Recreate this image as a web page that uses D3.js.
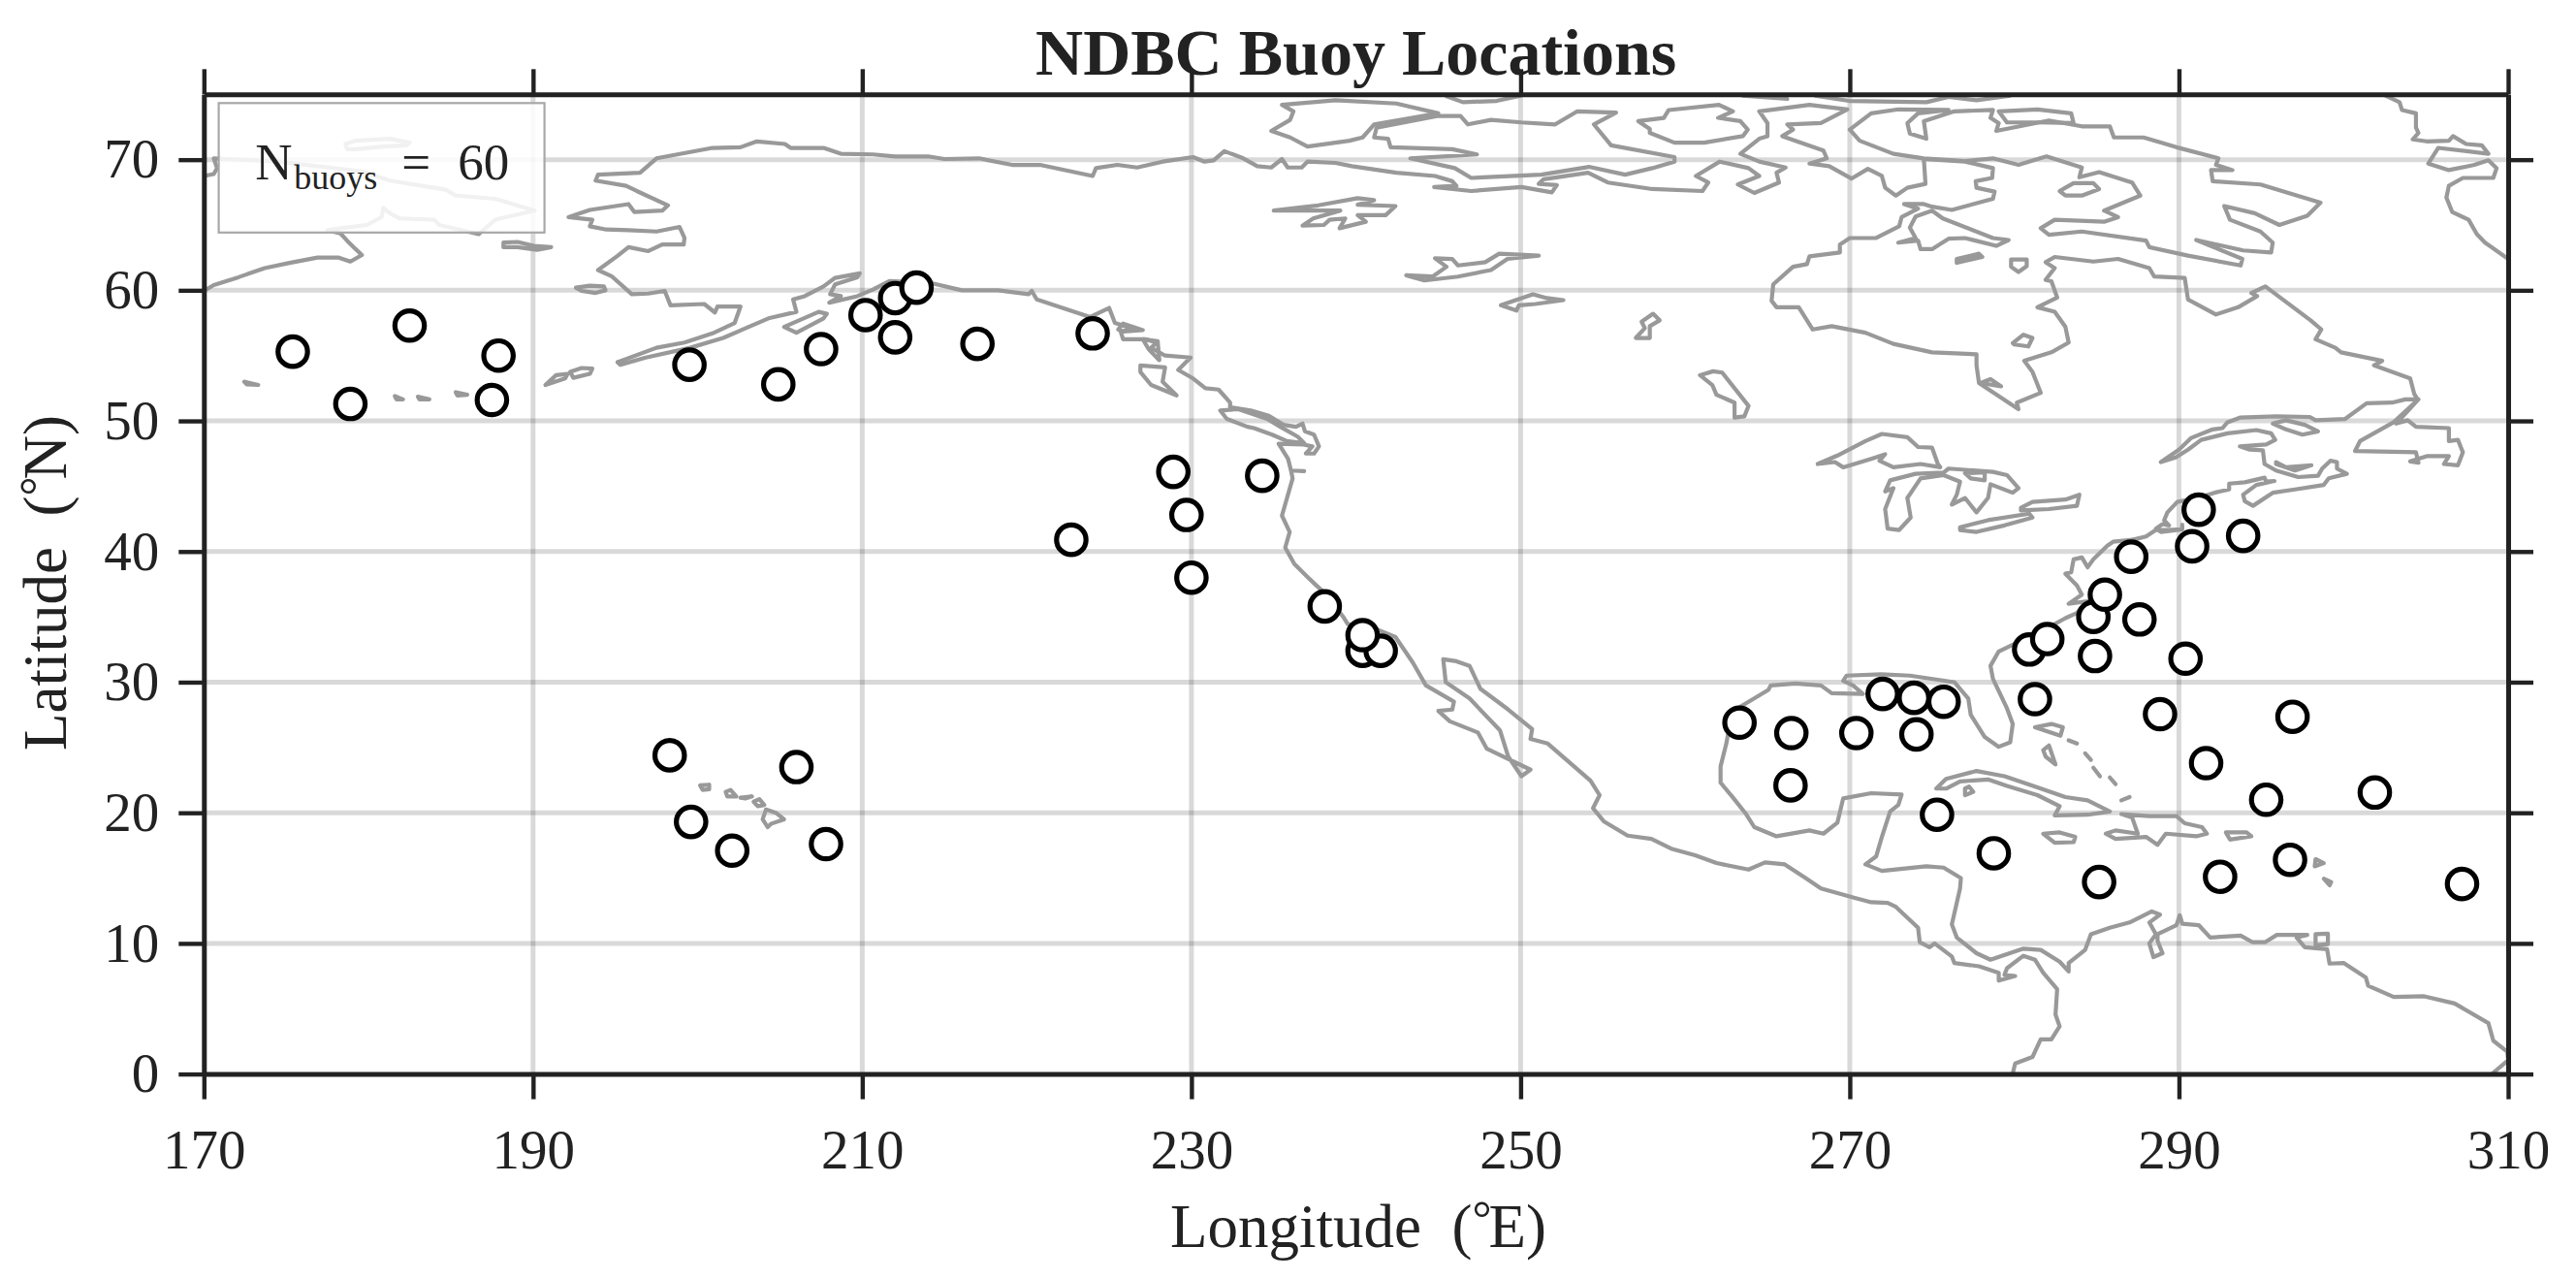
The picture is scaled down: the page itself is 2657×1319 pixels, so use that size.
<!DOCTYPE html>
<html>
<head>
<meta charset="utf-8">
<title>NDBC Buoy Locations</title>
<script src="https://cdn.jsdelivr.net/npm/d3@7"></script>
<style>
  html, body { margin: 0; padding: 0; background: #fff; }
  text { font-family: "Liberation Serif", serif; fill: #222; white-space: pre; }
</style>
</head>
<body>
<svg id="chart" width="2657" height="1319"></svg>
<script>
var lonTicks = [170, 190, 210, 230, 250, 270, 290, 310];
var latTicks = [0, 10, 20, 30, 40, 50, 60, 70];

// buoy positions, degrees E / degrees N (later entries draw on top)
var buoyLon = [175.4, 178.9, 182.5, 187.9, 187.5, 199.5, 204.9, 207.5, 210.2, 212.0, 213.3, 212.0, 217.0, 224.0,
  228.9, 234.3, 229.7, 222.7, 230.0, 238.1, 240.4, 241.5, 240.4, 198.3, 199.6, 202.1, 206.0, 207.8,
  291.2, 290.8, 293.9, 287.1, 284.8, 285.5, 287.6, 284.9, 290.4, 280.9, 282.0, 281.25, 288.85, 296.9, 291.65, 295.3, 301.9,
  266.45, 263.3, 270.4, 272.0, 273.9, 275.7, 274.05, 266.4, 275.3, 278.75, 285.15, 292.5, 296.75, 307.2];
var buoyLat = [55.3, 51.3, 57.3, 55.0, 51.6, 54.3, 52.8, 55.5, 58.1, 59.4, 60.2, 56.4, 55.9, 56.7,
  46.1, 45.8, 42.8, 40.9, 38.0, 35.8, 32.4, 32.4, 33.6, 24.4, 19.3, 17.1, 23.5, 17.6,
  43.2, 40.4, 41.2, 39.6, 35.0, 36.7, 34.8, 32.0, 31.8, 32.5, 33.3, 28.7, 27.55, 27.35, 23.8, 21.0, 21.55,
  26.1, 26.9, 26.1, 29.1, 28.8, 28.5, 26.0, 22.1, 19.85, 16.9, 14.7, 15.1, 16.4, 14.55];

// coastlines, [lon, lat]
var siberia = [[170,59.95],[170.6,60.4],[172.1,61],[173.7,61.7],[175.2,62.1],[176.9,62.5],[178.2,62.5],[178.9,62.2],[179.6,62.7],[179.1,63.3],[178.7,63.8],[178.3,64.35],[177.5,64.6],[178,64.7],[179.9,65],[180.8,65.6],[180.9,66.3],[181.3,65.9],[181.9,65.5],[184,65.4],[184.3,65],[186.7,64.3],[187.7,65.4],[188,65.5],[190.1,66.1],[187.7,67],[185.3,67.25],[184.7,67.7],[181.3,68.4],[179.6,69.1],[174.5,69.85],[170.6,70.1],[170.8,69.35],[170.6,68.9],[170,68.75]];

var northAmericaArctic = [[195.14,54.5],[197.5,55.6],[199.2,56],[200.9,56.7],[202.25,57.5],[202.6,58.75],[201.2,58.75],[201.05,58.3],[200.4,58.95],[198.35,58.85],[198,59.95],[197,59.75],[196,59.7],[194.8,61.05],[193.95,61.55],[195.15,62.65],[195.8,63.3],[197,63],[197.85,63.5],[199.15,63.5],[199.2,64],[198.9,64.85],[197.5,64.5],[195.8,64.6],[194.45,64.65],[193.45,64.9],[193.6,65.4],[192.15,65.6],[193.45,66.15],[195.8,66.6],[196.15,66],[197.85,66.1],[198.2,66.5],[196.3,67.6],[195.65,68],[193.8,68.4],[193.95,68.85],[196.5,69],[197.5,70.1],[200.9,70.9],[202.6,70.95],[203.6,71.4],[205.3,71.2],[205.65,70.9],[207.65,70.9],[208.7,70.45],[210.65,70.4],[212,70.25],[214,70.25],[215,70.05],[217.1,70.1],[219.1,69.6],[220.8,69.6],[224,68.75],[224.2,69.35],[225.5,69.6],[226.7,69.4],[228.25,69.85],[230.1,70.2],[230.8,69.85],[231.35,69.95],[232,70.65],[233.15,70.1],[234,69.5],[234.85,69.4],[235.5,70.05],[235.85,69.4],[236.7,69.4],[237.05,69.85],[238.75,69.75],[239.75,69.5],[242.45,69],[244.8,68.75],[245.85,68.35],[246.1,68],[244.75,67.9],[247,67.6],[250.05,67.9],[251.9,67.5],[252.2,68.05],[251.1,68.15],[251.4,68.5],[254.1,69],[255.3,68.25],[258,67.75],[261.05,67.6],[261.4,68.25],[260.65,68.75],[262.1,69.85],[263.85,69.35],[264.5,68.75],[263.2,68.1],[264.2,67.45],[265.7,68.25],[265.55,69],[266.1,69.4],[264.5,69.85],[263.35,70.45],[264.5,71.6],[265,71.8],[265,72.8],[264.5,73.7],[267.55,74.2],[269.85,73.85],[268.25,72.8],[266.2,72.7],[266.55,72.3],[265.9,71.8],[268.4,70.7],[268.6,70.1],[267.55,69.7],[268.75,69.5],[270.1,68.55],[271.1,69.3],[271.95,68.75],[272.15,67.85],[272.8,67.25],[273.5,67.85],[274.6,68.15],[274.5,70.05]];

var hudsonToCapeCod = [[274.5,70.05],[277,69.85],[278.7,69.35],[278.65,68.6],[277.65,68.35],[277.7,67.85],[278.8,67.55],[278.7,67],[276.2,66.15],[275,66.4],[274.5,66.6],[273.3,66.6],[274.15,66.25],[273.15,65.6],[273,64.9],[271.6,64],[270,64],[269.4,63.5],[269.4,62.9],[267.55,62.6],[267.4,62],[266.55,61.8],[265.35,60.45],[265.25,59.2],[265.55,58.7],[266.9,58.7],[267.4,57.7],[267.75,57],[268.9,57.25],[270.95,56.75],[272.65,55.9],[275,55.25],[277.7,55.1],[277.7,54.25],[277.85,52.9],[280.25,50.9],[280.15,51.4],[281.6,52.15],[281.1,53.75],[280.6,54.6],[282.25,55.25],[283.3,56],[283.1,57.2],[282.45,58.35],[281.4,58.7],[282.6,59.45],[282.25,60.7],[281.9,60.8],[282.45,61.7],[281.9,62.15],[282.45,62.55],[284.8,62.2],[286.3,62.4],[288.2,61.7],[288.5,61.05],[290.35,60.95],[290.55,59.3],[292.25,58.15],[293.6,58.7],[294.75,59.55],[294.4,59.8],[295.25,60.3],[298,57.7],[298.65,57],[298.3,56.25],[299.5,55.6],[299.85,55.25],[302.35,54.6],[301.85,54.25],[304.05,53.25],[304.3,52.05],[304.5,51.65],[303.75,51.65],[302.95,51.4],[301.4,51.35],[300.1,50.15],[298.3,50.05],[297.95,50.3],[295.9,50.35],[293.7,50.25],[292.95,49.9],[292.65,49.45],[292.05,49.35],[290.75,48.7],[290,47.8],[288.9,46.85],[289.8,47.2],[290.55,47.8],[291.35,48.55],[292.95,49.05],[294.7,49.3],[295.6,49.05],[295.85,48.55],[295.3,48.2],[293.7,48.05],[294.3,47.8],[295.1,47.75],[295.2,46.7],[295.9,46.2],[297.25,45.7],[298.45,45.8],[298.7,46.35],[299.2,46.95],[299.6,46.85],[299.6,46.35],[300.2,45.95],[299.1,45.6],[298.8,45.1],[297.05,44.75],[295.7,44.5],[294.5,43.5],[294,43.85],[293.9,44.35],[294.7,45.1],[295.8,45.4],[295.3,45.35],[295.2,45.65],[294,45.3],[293.05,45.2],[293.05,44.75],[292.15,44.5],[291.15,44.1],[289.9,43.8],[289.3,43],[289.1,42.4],[289.4,42],[289,42.1],[288.6,41.75],[288.9,41.5],[290.2,41.7],[290.2,42.05],[290.2,41.7],[289.2,41.65],[288.6,41.65],[288,41.15],[287.2,40.9]];

var eastAndGulf = [[287.2,40.9],[286,40.75],[285.65,40.45],[284.8,39.4],[284.45,38.8],[284.1,39.55],[283.6,39.4],[283.45,38.4],[283.1,38.3],[283.8,37.4],[284.1,36.7],[283.3,36],[284.45,36.2],[283.8,35.3],[283.1,34.9],[282.1,34.2],[279.05,32.35],[278.55,31.25],[278.7,30.25],[279.55,28],[279.9,26.8],[279.75,25.4],[279.05,25.05],[278.2,25.8],[277.35,27.5],[277.2,28.75],[276.35,30],[273.65,30.5],[271.9,30.6],[269.8,30.5],[269.6,30.1],[270.2,29.75],[270.8,29.1],[268.9,29.15],[268.25,29.75],[266.7,29.9],[265.2,29.75],[265.05,29.4],[263.85,28.5],[262.85,27.75],[262.5,25.3],[262.15,23.55],[262.15,22.3],[262.85,21.25],[263.7,19.9],[264.2,18.9],[265.55,18.2],[267.55,18.65],[268.4,18.4],[269.25,19.25],[269.6,21.1],[271.3,21.5],[273.15,21.4],[272.95,20.6],[272.45,20.1],[271.95,18.15],[271.6,16.65],[270.95,16.05],[271.95,15.55],[274.65,15.9],[275.7,15.8],[276.75,15],[276.7,14.2],[276.2,11.45],[276.5,10.45],[277.7,9.25],[278.55,8.75],[280.55,9.6],[281.6,9.5],[282.75,8.6],[283.3,7.85],[283.3,8.5],[284.3,9.5],[284.65,10.7],[285.8,11.2],[287,11.6],[288.35,12.45],[288.85,12.2],[288.2,11.6],[288.6,10.7],[288.2,10],[288.45,8.95],[289,9.25],[288.7,10.2],[288.7,10.7],[289.85,11.4],[290.05,12.15],[290.2,11.5],[291.2,11.4],[291.9,10.45],[293.75,10.6],[294.45,10.1],[295.25,10.1],[295.95,10.65],[297.8,10.65],[297.15,10.45],[297.65,9.7],[299,9.55],[299.15,8.45],[300,8.5],[301.35,7.4],[301.5,6.75],[303.05,5.9],[304.9,5.95],[306.75,5.4],[308.8,3.9],[309.1,2.55],[309.95,1.7],[310,1.05],[309.1,0.1]];

var pacificCoast = [[195.14,54.5],[195.3,54.3],[196.85,54.85],[199.55,55.6],[201.55,56.35],[204.3,57.85],[206,58.35],[205.8,59.3],[206.5,59.55],[207.65,60.3],[208.35,60.95],[209.85,61.3],[209.7,61],[208.35,60.45],[208.05,59.7],[208.7,59.55],[208,59.05],[209.7,59.55],[210.65,60.05],[211.65,60.7],[214.2,60.55],[216.05,60],[218.25,60],[220.1,59.7],[220.3,59.95],[220.6,59.3],[223.85,57.95],[225,58.65],[225.35,57.5],[226.55,57],[225.7,56.85],[225.85,56.25],[227.2,56.25],[227.9,56],[227.55,55.6],[228.4,55],[229.95,54.85],[229.2,53.9],[230.1,53.25],[230.85,52.5],[231.65,52.4],[232.35,51.4],[232.35,51.05],[233.6,50.8],[234.7,50.4],[235.6,49.7],[236.35,49.55],[236.75,49.8],[236.9,49.2],[237.45,48.95],[237.75,48.05],[237.45,47.5],[236.95,47.5],[237.35,48.05],[236.75,48.2],[235.3,48.25],[235.87,47.1],[236.05,46.2],[236.85,46.15],[236.05,46.2],[236.15,45.6],[235.5,42.75],[235.97,41.5],[235.7,40.3],[236.25,39.05],[237.05,38.05],[237.55,37.45],[238.2,36.7],[239.25,34.95],[239.5,34.45],[241.35,34],[242.4,33.45],[243.45,31.5],[244.25,29.75],[245.95,28.5],[245.85,27.9],[245,27.8],[245.7,27],[247.4,26.15],[247.95,24.9],[250.6,23.3],[250.05,22.8],[249.25,24.3],[248.75,26.3],[246.9,28.75],[245.45,30],[245.3,31.75],[246.1,31.6],[246.9,31.25],[247.55,29.5],[249.25,27.9],[250.7,26.4],[250.6,25.65],[251.65,25.3],[254.25,22.45],[254.8,21.35],[254.4,20.35],[255.05,19.35],[256.5,18.25],[257.95,18],[259.15,17.25],[260.6,16.75],[261.9,16.15],[263.85,15.65],[264.85,16.2],[266.05,16.05],[267.25,15.05],[268.25,14.2],[270.25,13.5],[271.3,13.15],[272.3,13.1],[272.8,12.8],[274.15,11.2],[274.25,10.1],[274.85,9.7],[275.15,10],[276.2,9],[276.35,8.5],[277.85,8.25],[279.05,7.75],[279.05,7.15],[280.05,7.5],[279.4,7.6],[279.55,8.1],[280.55,9.05],[281.25,8.75],[281.75,7.75],[282.6,6.5],[282.5,4.55],[282.75,3.65],[282.25,2.65],[281.6,2.65],[281.1,1.3],[280.05,0.8],[279.9,0.05]];

var greenland = [[302.55,74.9],[303.4,74.4],[303.55,73.8],[304.4,73.55],[304.4,72.45],[304.55,72.05],[304.2,71.55],[305.05,71.4],[306.4,71.45],[306.65,71.8],[307.45,71.2],[308.4,71.1],[308.8,70.45],[305.75,70.9],[305.15,69.7],[306.4,69.2],[307.95,69.6],[308.8,69.95],[309.3,69.35],[309.1,68.6],[307.25,68.6],[306.4,68],[306.25,67.1],[306.6,66],[307.6,65.4],[308.1,64.3],[308.6,63.65],[310,62.4]];
var topEdgeA = [[245.5,74.85],[246.5,74.4],[248.55,74.5],[250,74.9]];
var topEdgeB = [[263.5,74.9],[266.2,74.65]];
var topEdgeC = [[267.9,74.9],[269.95,74.5],[274.65,74.4],[276,74.8],[277.7,74.55],[279.75,74.9]];

var wrangel = [[178.6,71.2],[179.2,71.45],[181.3,71.6],[182.5,71.3],[182.3,71.1],[180.9,71],[179.2,70.8],[178.7,70.8]];
var stLawrenceIs = [[188.2,63.65],[189.05,63.7],[190.05,63.4],[191.1,63.3],[190.25,63.1],[189.05,63.3],[188.2,63.3]];
var nunivak = [[192.6,60.2],[193.45,60.35],[194.3,60.3],[194.4,60],[193.8,59.8],[192.95,59.95]];
var kodiak = [[205.25,57.2],[207.35,58.35],[207.85,58.2],[207.65,57.85],[206,56.75]];
var unalaska = [[190.75,52.75],[191.4,53.5],[192.1,53.6],[191.95,53.25]];
var unimak = [[192.25,53.75],[192.95,54.05],[193.6,54],[193.45,53.6],[192.45,53.3]];
var attu = [[172.45,53],[173.3,52.75],[172.6,52.8]];
var atka = [[181.6,51.9],[182.1,51.65],[181.7,51.65]];
var adak = [[183,51.85],[183.7,51.65],[183.1,51.65]];
var umnak = [[185.3,52.2],[186,52],[185.4,51.95]];
var chichagof = [[225.55,57],[225.85,57.45],[227.05,56.95],[225.85,56.85]];
var princeWales = [[227.05,56.25],[227.95,56.1],[228.05,54.65],[227.4,55.5]];
var haidaGwaii = [[226.9,54.25],[228.4,54.1],[228.25,53],[229.1,51.95],[227.55,52.75],[226.9,53.75]];
var vancouverIs = [[231.75,50.8],[232.85,50.9],[234.6,50.15],[235.4,49.55],[236.45,48.8],[236.85,48.3],[235.8,48.45],[234.9,48.95],[233.8,49.45],[233.4,49.55],[232.15,50.15]];

var banks = [[235.5,74.2],[238.75,74.55],[242.45,74.3],[245,73.55],[241.1,72.7],[240.4,71.7],[239.6,71.45],[237.05,71],[236,71.7],[234.85,72.2],[236,73.05],[236.2,73.7]];
var victoria = [[245,73.35],[246.35,73.35],[246.8,72.7],[248.2,73.05],[250.05,72.85],[252.1,72.7],[253.45,73.7],[255.8,73.6],[254.45,72.7],[255.5,71.1],[259.35,70.2],[259.35,69.85],[258,69.35],[256.35,68.85],[254.15,69.45],[251.25,68.85],[247,68.6],[246,69.35],[243.3,70.1],[247.35,70.4],[245.85,70.8],[242.1,70.95],[241.95,71.6],[241.1,71.7],[241.25,72.45]];
var somerset = [[257.15,72.95],[258.7,73.2],[259,73.8],[262.05,74.2],[262.9,73.7],[262,73.2],[263.35,72.95],[263.8,72.3],[263.5,71.8],[261.15,71.3],[259.35,71.3],[257.85,72.05],[257.85,72.35]];
var baffin = [[270,72.3],[271.3,73.55],[272.95,73.85],[276,73.8],[274.15,73.55],[273.5,72.8],[273.65,72],[274.65,71.6],[274.5,72.95],[276.35,73.7],[278.7,73.8],[278.55,73.2],[279.05,72.8],[278.9,72.2],[282.1,73],[284.1,72.55],[285.8,72.55],[286.05,71.7],[287.85,71.7],[289.85,70.95],[292.4,70.1],[292.25,69.6],[293.25,69.2],[291.95,69.2],[292.05,68.35],[294.95,68.1],[298.6,66.7],[297.8,65.7],[296.1,65],[294.6,65.9],[292.75,66.45],[293.1,65.4],[294.95,64.5],[295.7,63.65],[295.6,62.9],[293.9,63.05],[291.05,63.85],[293.85,62.4],[293.75,61.9],[290.55,62.65],[288.2,63.3],[288,63.8],[284.1,64.5],[282.1,64.25],[281.6,64.75],[282.45,65.4],[285.45,65.25],[286.3,65.6],[285.45,66.1],[287.65,67.25],[287.15,68.25],[285.15,69.05],[283.95,68.65],[284.1,69.4],[281.95,70.25],[280.25,69.6],[278.7,70.1],[277,69.9],[274.5,70.1],[272.65,70.45],[270.6,71.45]];
var bylot = [[279.05,73.7],[281.4,73.85],[283.45,73.55],[283.6,72.8],[281.4,72.85],[279.55,72.85]];
var southampton = [[275,66.1],[275.65,65.5],[278.7,64],[279.65,63.85],[278.9,63.4],[277,64],[276,63.95],[275,63.15],[274.3,63.15],[274.15,63.8],[272.95,63.65],[274,64],[273.65,64.8],[274,65.65]];
var princeCharles = [[283.1,67.85],[283.6,68.2],[284.8,68.2],[285.15,67.75],[284.1,67.25],[283.1,67.25],[282.75,67.6]];
var mansel = [[276.5,62.4],[277.85,62.8],[278.05,62.55],[276.5,62.1]];
var coats = [[279.8,62.35],[280.75,62.35],[280.75,61.85],[280.25,61.4],[279.8,61.8]];
var belcher = [[279.9,55.95],[280.55,56.6],[281.1,56.35],[280.85,55.7],[280,55.85]];
var akimiski = [[277.95,52.9],[278.55,53.2],[279.2,52.65]];
var anticosti = [[295.7,49.8],[296.5,50.05],[297.65,49.7],[298.45,49.2],[297.5,48.95],[296.5,49.35]];
var peiIsland = [[295.9,46.85],[296.5,46.45],[298.05,46.6],[297.05,46.2],[295.9,46.7]];
var newfoundland = [[304.55,51.65],[303.05,49.9],[301,48.45],[300.7,47.7],[304.4,47.6],[304.55,46.8],[304.05,46.9],[305.05,47.3],[306.4,47.3],[306.1,46.7],[306.95,46.6],[307.25,47.6],[306.95,48.55],[306.4,48.45],[306.4,49.45],[304.4,49.55],[303.9,50.05],[303.2,49.8]];

var greatBear = [[235,66.1],[237.7,66.5],[240.1,67.05],[241.1,66.9],[240.1,66.55],[242.4,66.45],[241.8,65.75],[240.1,65.75],[240.6,65.25],[239,64.75],[239.35,65.5],[238.4,65.4],[238.05,65],[236.75,64.95],[237.4,65.5],[239.05,66.1]];
var greatSlave = [[243.05,61.15],[244.65,61.05],[245.5,61.8],[244.8,62.45],[245.85,62.4],[246.2,61.9],[247.85,62.15],[248.7,62.8],[251.1,62.65],[249.2,62.4],[248.2,61.55],[246.2,61.05],[244.15,60.75]];
var athabasca = [[248.8,58.85],[250.75,59.7],[251.6,59.4],[252.6,59.25],[250.9,58.95],[249.9,58.85],[249.75,58.45]];
var reindeer = [[257,56.35],[257.55,57.1],[257.35,57.6],[258.05,58.2],[258.45,57.7],[257.85,57.25],[257.85,56.35]];
var winnipeg = [[260.9,53.5],[261.7,53.8],[262.25,53.7],[263.85,51.15],[263.6,50.35],[263,50.25],[263,51.4],[261.9,52],[261.65,52.75]];
var superior = [[268.05,46.7],[269.25,47.35],[270.95,48.45],[271.95,49],[273.5,48.75],[274.15,48],[275,47.95],[275.35,46.7],[275.5,46.45],[274.3,46.7],[272.65,46.45],[271.8,46.95],[272.15,47.45],[271.3,47.1],[269.6,46.45],[269.1,46.85]];
var michiganHuron = [[272.15,44.6],[272.45,45.45],[274,45.95],[275.7,46.05],[276,46.35],[278.7,46.1],[279.55,45.85],[280.25,44.85],[279.9,44.5],[278.55,45.15],[278.4,44.1],[277.7,43],[277,44.1],[276.2,43.6],[276.5,44.35],[276.7,45.35],[275.7,45.85],[274.3,45.6],[273.5,44.1],[273.7,42.6],[273,41.65],[272.3,41.75],[272.15,43.25],[272.65,44.85]];
var georgian = [[277,46],[278.2,46.05],[278.2,45.45],[277.35,45.6]];
var erie = [[276.7,41.85],[278.4,42.4],[280.9,42.9],[281.1,42.6],[279.4,42],[277.7,41.5],[276.7,41.65]];
var ontario = [[280.4,43.35],[281.1,43.8],[283.1,43.98],[283.95,44.35],[283.8,43.5],[282.1,43.25],[280.4,43.15]];

var kauai = [[200.15,22.1],[200.7,22.15],[200.7,21.8],[200.3,21.75]];
var oahu = [[201.7,21.6],[202,21.75],[202.35,21.25],[201.8,21.25]];
var molokai = [[202.6,21.15],[203.3,21.25],[202.9,21.1]];
var maui = [[203.4,20.85],[203.75,21.05],[204.05,20.6],[203.65,20.5]];
var bigIsland = [[204.15,20.25],[204.75,20],[205.25,19.5],[204.45,19.15],[204.25,18.9],[203.95,19.5]];

var cuba = [[275.25,21.85],[275.85,22.6],[277.7,23.2],[279.4,22.8],[281.4,21.95],[283.1,21.2],[284.45,20.95],[285.8,20.1],[284.45,19.85],[282.45,19.8],[282.75,20.5],[281.4,21.35],[279.55,22.05],[278.4,22.55],[276.7,22.4],[275.85,21.85]];
var isleYouth = [[277,21.85],[277.25,22],[277.5,21.6],[277,21.35]];
var andros = [[281.75,24.8],[282.1,25.15],[282.5,23.7],[281.9,24.3]];
var grandBahama = [[281.25,26.55],[282.25,26.8],[282.95,26.55],[282.8,25.9]];
var bahamaA = [[283.3,25.55],[283.8,25.3]];
var bahamaB = [[284.3,24.55],[284.65,24.05]];
var bahamaC = [[284.8,23.45],[285.2,22.8]];
var bahamaD = [[285.8,22.7],[286.15,22.2]];
var bahamaE = [[286.5,20.95],[287,21.2]];
var jamaica = [[281.75,18.4],[282.75,18.5],[283.7,18.15],[283.6,17.75],[282.45,17.7]];
var hispaniola = [[286.5,19.9],[288.2,19.75],[289.85,19.75],[290.35,19.2],[291.4,18.9],[291.7,18.4],[291.05,18.2],[289.2,18.4],[288.7,17.55],[288,18.15],[286.15,18],[285.55,18.4],[286.15,18.65],[287.5,18.4],[287.15,19.65]];
var puertoRico = [[292.85,18.5],[294.1,18.5],[294.4,18.2],[293.1,17.95]];
var guadeloupe = [[298.3,16.45],[298.8,16.15],[298.25,15.9]];
var martinique = [[298.8,14.95],[299.25,14.7],[299.15,14.45]];
var trinidad = [[298.3,10.7],[299.05,10.75],[299.05,9.95],[298.3,9.85],[298.3,10.3]];

var openCoasts = [siberia, northAmericaArctic, hudsonToCapeCod, eastAndGulf, pacificCoast, greenland, topEdgeA, topEdgeB, topEdgeC,
  bahamaA, bahamaB, bahamaC, bahamaD, bahamaE];
var closedCoasts = [wrangel, stLawrenceIs, nunivak, kodiak, unalaska, unimak, attu, atka, adak, umnak, chichagof, princeWales, haidaGwaii, vancouverIs,
  banks, victoria, somerset, baffin, bylot, southampton, princeCharles, mansel, coats, belcher, akimiski, anticosti, peiIsland, newfoundland,
  greatBear, greatSlave, athabasca, reindeer, winnipeg, superior, michiganHuron, georgian, erie, ontario,
  kauai, oahu, molokai, maui, bigIsland, cuba, isleYouth, andros, grandBahama, jamaica, hispaniola, puertoRico, guadeloupe, martinique, trinidad];

var svg = d3.select('#chart'),
  margin = {top: 97.3, right: 70, bottom: 211.4, left: 210.3},
  width = svg.attr('width') - margin.left - margin.right,
  height = svg.attr('height') - margin.top - margin.bottom,
  g = svg.append('g').attr('transform', 'translate(' + margin.left + ',' + margin.top + ')');

var x = d3.scaleLinear().domain([170, 310]).range([0, width]),
  y = d3.scaleLinear().domain([0, 75]).range([height, 0]);

var axisColor = '#222',
  coastColor = '#999';

svg.append('defs').append('clipPath').attr('id', 'plot-clip')
  .append('rect').attr('width', width).attr('height', height);

// grid
g.append('g').selectAll('line').data(lonTicks.slice(1, -1)).enter().append('line')
  .attr('x1', d => x(d)).attr('x2', d => x(d)).attr('y1', 0).attr('y2', height)
  .attr('stroke', '#000').attr('stroke-opacity', 0.15).attr('stroke-width', 5);
g.append('g').selectAll('line').data(latTicks.slice(1)).enter().append('line')
  .attr('x1', 0).attr('x2', width).attr('y1', d => y(d)).attr('y2', d => y(d))
  .attr('stroke', '#000').attr('stroke-opacity', 0.15).attr('stroke-width', 5);

// coastlines
var line = d3.line().x(d => x(d[0])).y(d => y(d[1]));
var coast = g.append('g').attr('clip-path', 'url(#plot-clip)')
  .attr('fill', 'none').attr('stroke', coastColor).attr('stroke-width', 4.2).attr('stroke-linejoin', 'round').attr('stroke-linecap', 'round');
coast.selectAll('.open').data(openCoasts).enter().append('path').attr('class', 'open')
  .attr('d', d => line(d));
coast.selectAll('.closed').data(closedCoasts).enter().append('path').attr('class', 'closed')
  .attr('d', d => line(d) + 'Z');

// buoys
g.append('g').selectAll('circle').data(buoyLon).enter().append('circle')
  .attr('cx', d => x(d))
  .attr('cy', (d, i) => y(buoyLat[i]))
  .attr('r', 15.2)
  .attr('fill', '#fff')
  .attr('stroke', '#000')
  .attr('stroke-width', 5.2);

// count box
g.append('rect')
  .attr('x', x(170) + 15.3).attr('y', 9)
  .attr('width', 336).attr('height', 133.5)
  .attr('fill', '#fff').attr('fill-opacity', 0.86)
  .attr('stroke', '#a8a8a8').attr('stroke-width', 2.2);

var countText = g.append('text').attr('y', 87.7).style('font-size', '53px');
countText.append('tspan').attr('x', 53).text('N');
countText.append('tspan').attr('x', 93).attr('dy', 10).style('font-size', '36px').text('buoys');
countText.append('tspan').attr('x', 204).attr('y', 87.7).text('=');
countText.append('tspan').attr('x', 262).text('60');

// axes, ticks outward on all four sides
function styleAxis(sel) {
  sel.selectAll('path.domain').attr('stroke', axisColor).attr('stroke-width', 5);
  sel.selectAll('.tick line').attr('stroke', axisColor).attr('stroke-width', 4.4);
  sel.selectAll('.tick text').style('font-size', '57px').attr('fill', axisColor)
    .style('font-family', '"Liberation Serif", serif');
}

g.append('g').attr('transform', 'translate(0,' + height + ')')
  .call(d3.axisBottom(x).tickValues(lonTicks).tickFormat(d3.format('d')).tickSize(26).tickSizeOuter(0).tickPadding(31))
  .call(styleAxis);
g.append('g')
  .call(d3.axisTop(x).tickValues(lonTicks).tickFormat('').tickSize(26).tickSizeOuter(0))
  .call(styleAxis);
g.append('g')
  .call(d3.axisLeft(y).tickValues(latTicks).tickFormat(d3.format('d')).tickSize(26).tickSizeOuter(0).tickPadding(20))
  .call(styleAxis);
g.append('g').attr('transform', 'translate(' + width + ',0)')
  .call(d3.axisRight(y).tickValues(latTicks).tickFormat('').tickSize(26).tickSizeOuter(0))
  .call(styleAxis);

// title and axis labels
svg.append('text')
  .attr('x', margin.left + width / 2).attr('y', 76.7)
  .attr('text-anchor', 'middle')
  .style('font-size', '68px').style('font-weight', 'bold')
  .text('NDBC Buoy Locations');

function labelWithDegree(sel, before, after) {
  sel.style('font-size', '63px');
  sel.append('tspan').text(before);
  sel.append('tspan').attr('dy', -13).style('font-size', '50px').text('\u00b0');
  sel.append('tspan').attr('dy', 13).attr('dx', -3).text(after);
}

svg.append('text').attr('x', 1207).attr('y', 1286)
  .call(labelWithDegree, 'Longitude  (', 'E)');
svg.append('text').attr('transform', 'translate(67.7,774) rotate(-90)')
  .call(labelWithDegree, 'Latitude  (', 'N)');
</script>
</body>
</html>
